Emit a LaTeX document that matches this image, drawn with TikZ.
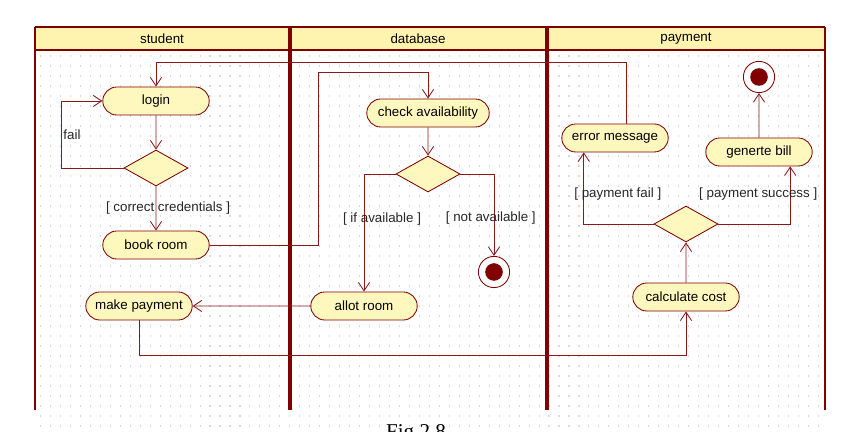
\documentclass[tikz,border=0pt]{standalone}
\usepackage{fontspec}
\setmainfont{Liberation Sans}
\newfontfamily\capfont{Liberation Serif}
\usetikzlibrary{arrows.meta,shapes.misc,shapes.geometric}
\definecolor{umlred}{RGB}{128,0,0}
\definecolor{linered}{RGB}{140,25,25}
\definecolor{actfill}{RGB}{255,248,190}
\definecolor{headfill}{RGB}{255,244,175}

\begin{document}
\begin{tikzpicture}[x=0.025cm,y=-0.025cm,>={Straight Barb[length=6pt,width=8pt]},
	font=\fontsize{9.5}{11}\selectfont,
	act/.style={rounded rectangle,draw=umlred,fill=actfill,line width=0.6pt,minimum width=2.8cm,minimum height=0.7cm,inner sep=2pt},
	choice/.style={diamond,draw=umlred,fill=actfill,line width=0.6pt,minimum width=1.6cm,minimum height=0.9cm,inner sep=0pt},
	final/.style={circle,draw=umlred,fill=white,line width=0.6pt,minimum size=0.78cm,
		path picture={\fill[umlred] (path picture bounding box.center) circle (0.22cm);}},
	flow/.style={->,draw=linered,line width=0.6pt},
	guard/.style={inner sep=1pt,text=black!85},
	lane/.style={draw=umlred,line width=1.5pt},
	divider/.style={draw=umlred,line width=3pt}]
	\useasboundingbox (0,0) rectangle (856,432);

	% dotted grid
	\foreach \y in {56,66,...,426}
		\draw[gray!30,line width=0.8pt,dash pattern=on 0.8pt off 6.29pt] (40,\y) -- (822,\y);

	% swimlanes
	\fill[headfill] (35,27) rectangle (825,50);
	\draw[lane] (35,27) -- (825,27);
	\draw[lane] (35,50) -- (825,50);
	\draw[lane] (35,27) -- (35,410);
	\draw[lane] (825,27) -- (825,410);
	\draw[divider] (290,27) -- (290,410);
	\draw[divider] (547,27) -- (547,410);
	\node (hstudent) at (162,39) {student};
	\node (hdata) at (418,39) {database};
	\node (hpay) at (686,39) {payment};

	\node[act] (login) at (156,101) {login};
	\node[choice] (dec1) at (156,168) {};
	\node[act] (book) at (156,245) {book room};
	\node[act] (make) at (139,306) {make payment};
	\node[act,minimum width=3.2cm] (check) at (428,113) {check availability};
	\node[choice] (dec2) at (428,174) {};
	\node[act] (allot) at (364,306) {allot room};
	\node[final] (end1) at (494,272) {};
	\node[act] (err) at (615,138) {error message};
	\node[act] (bill) at (759,152) {generte bill};
	\node[final] (end2) at (759,77) {};
	\node[act] (calc) at (686,297) {calculate cost};
	\node[choice] (dec3) at (686,224) {};

	\coordinate (bendA) at (318,72);
	\coordinate (topline) at (0,62);

	\draw[flow] (login) -- (dec1);
	\draw[flow] (dec1.west) -- ++(-62,0) |- node[guard,pos=0.25,right]{fail} (login.west);
	\draw[flow] (dec1) -- node[guard,xshift=0.3cm]{[ correct credentials ]} (book);
	\draw[flow] (book.east) -| (bendA) -| (check.north);
	\draw[flow] (check) -- (dec2);
	\draw[flow] (dec2.west) -| node[guard,pos=0.69,xshift=0.45cm]{[ if available ]} (allot.north);
	\draw[flow] (dec2.east) -| node[guard,pos=0.77,xshift=-0.08cm]{[ not available ]} (end1.north);
	\draw[flow] (allot) -- (make);
	\draw[flow] (make.south) -- ++(0,35) -| (calc.south);
	\draw[flow] (calc) -- (dec3);
	\draw[flow] (dec3.west) -| node[guard,pos=0.71,xshift=0.85cm]{[ payment fail ]} ([xshift=-0.78cm]err.south);
	\draw[flow] (dec3.east) -| node[guard,pos=0.76,xshift=-0.8cm]{[ payment success ]} ([xshift=0.78cm]bill.south);
	\draw[flow] ([xshift=0.28cm]err.north) |- (login.north |- topline) -- (login.north);
	\draw[flow] (bill) -- (end2);

	\node[anchor=base,font=\capfont\fontsize{15}{17}\selectfont] (cap) at (416,438) {Fig 2.8};
\end{tikzpicture}
\end{document}
